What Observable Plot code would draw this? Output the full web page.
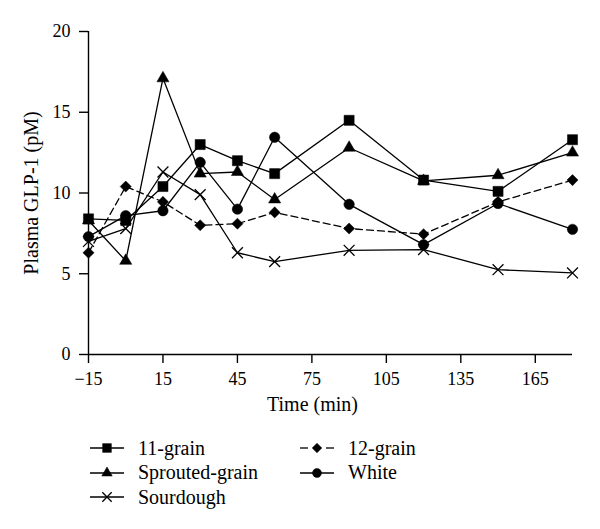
<!DOCTYPE html>
<html><head><meta charset="utf-8">
<script src="https://cdn.jsdelivr.net/npm/d3@7"></script>
<script src="https://cdn.jsdelivr.net/npm/@observablehq/plot@0.6"></script>
<style>
body{margin:0;background:#fff;font-family:"Liberation Serif",serif;}
#chart{width:600px;height:529px;position:relative;overflow:hidden;background:#fff}
#legend{display:grid;grid-template-columns:210px 200px;padding-left:90px;padding-top:16px;grid-auto-flow:column;grid-template-rows:repeat(3,24.5px)}
.item{display:flex;align-items:center;font-size:20px;color:#000;white-space:nowrap}
.item svg{margin-right:14px;flex:none}
</style></head>
<body><div id="chart"></div>
<script>
const time = [-15, 0, 15, 30, 45, 60, 90, 120, 150, 180];
const grain11 = [8.4, 8.3, 10.4, 13.0, 12.0, 11.2, 14.5, 10.8, 10.1, 13.3];
const sprouted = [8.3, 5.8, 17.1, 11.2, 11.3, 9.6, 12.8, 10.75, 11.1, 12.5];
const sourdough = [7.0, 7.8, 11.3, 9.9, 6.3, 5.75, 6.45, 6.5, 5.25, 5.05];
const grain12 = [6.3, 10.4, 9.45, 8.0, 8.1, 8.8, 7.8, 7.45, 9.45, 10.8];
const white = [7.3, 8.6, 8.9, 11.9, 9.0, 13.45, 9.3, 6.8, 9.35, 7.75];
const seriesNames = ["11-grain", "Sprouted-grain", "Sourdough", "12-grain", "White"];
const xTicks = [-15, 15, 45, 75, 105, 135, 165];
const yTicks = [0, 5, 10, 15, 20];
const xLabel = "Time (min)";
const yLabel = "Plasma GLP-1 (pM)";

const styles = {
  "11-grain": {values: grain11, symbol: "square", r: 5.7, fill: "black", dash: null},
  "Sprouted-grain": {values: sprouted, symbol: "triangle", r: 4.5, fill: "black", dash: null},
  "Sourdough": {values: sourdough, symbol: "times", r: 5.0, fill: "none", dash: null},
  "12-grain": {values: grain12, symbol: "diamond2", r: 5.0, fill: "black", dash: "7,4"},
  "White": {values: white, symbol: "circle", r: 5.2, fill: "black", dash: null}
};

const rows = seriesNames.flatMap(name => time.map((t, i) => ({series: name, time: t, value: styles[name].values[i]})));

const marks = [
  Plot.ruleX([-15], {y1: 0, y2: 20, stroke: "black", strokeWidth: 1.4}),
  Plot.ruleY([0], {x1: -15, x2: 180, stroke: "black", strokeWidth: 1.4}),
  Plot.axisY({ticks: yTicks, tickSize: 9, tickPadding: 9, fontSize: 18, label: null, strokeWidth: 1.4}),
  Plot.axisX({ticks: xTicks, tickSize: 9, tickPadding: 9, fontSize: 18, label: null, strokeWidth: 1.4}),
  Plot.text([yLabel], {text: d => d, frameAnchor: "left", textAnchor: "middle", rotate: -90, dx: -57, fontSize: 20}),
  Plot.text([xLabel], {text: d => d, frameAnchor: "bottom", textAnchor: "middle", dx: -18, dy: 56, fontSize: 20})
];
for (const name of seriesNames) {
  const s = styles[name];
  const data = rows.filter(d => d.series === name);
  marks.push(Plot.line(data, {x: "time", y: "value", stroke: "black", strokeWidth: 1.3, strokeDasharray: s.dash}));
}
for (const name of seriesNames) {
  const s = styles[name];
  const data = rows.filter(d => d.series === name);
  marks.push(Plot.dot(data, {x: "time", y: "value", symbol: s.symbol, r: s.r, fill: s.fill, stroke: "black", strokeWidth: s.fill === "none" ? 1.3 : 0.5}));
}

const plot = Plot.plot({
  width: 600, height: 420,
  marginLeft: 88, marginRight: 28, marginTop: 31, marginBottom: 66,
  x: {domain: [-15, 180]},
  y: {domain: [0, 20]},
  style: {fontFamily: "'Liberation Serif', serif", fontSize: "18px", color: "black", background: "white"},
  marks
});
const chart = document.getElementById("chart");
chart.appendChild(plot);

const legend = document.createElement("div");
legend.id = "legend";
const symPath = {square: d3.symbolSquare, triangle: d3.symbolTriangle, times: d3.symbolTimes, diamond2: d3.symbolDiamond2, circle: d3.symbolCircle};
for (const name of seriesNames) {
  const s = styles[name];
  const item = document.createElement("div");
  item.className = "item";
  const svg = d3.create("svg").attr("width", 34).attr("height", 20);
  if (s.dash) {
    svg.append("line").attr("x1", 0).attr("x2", 8).attr("y1", 10).attr("y2", 10).attr("stroke", "black").attr("stroke-width", 1.3);
    svg.append("line").attr("x1", 26).attr("x2", 34).attr("y1", 10).attr("y2", 10).attr("stroke", "black").attr("stroke-width", 1.3);
  } else {
    svg.append("line").attr("x1", 0).attr("x2", 34).attr("y1", 10).attr("y2", 10).attr("stroke", "black").attr("stroke-width", 1.3);
  }
  const size = Math.PI * s.r * s.r * 0.75;
  svg.append("path").attr("transform", "translate(17,10)")
    .attr("d", d3.symbol(symPath[s.symbol], size)())
    .attr("fill", s.fill).attr("stroke", "black").attr("stroke-width", s.fill === "none" ? 1.3 : 0.5);
  item.appendChild(svg.node());
  const span = document.createElement("span");
  span.textContent = name;
  item.appendChild(span);
  legend.appendChild(item);
}
chart.appendChild(legend);
</script>
</body></html>
